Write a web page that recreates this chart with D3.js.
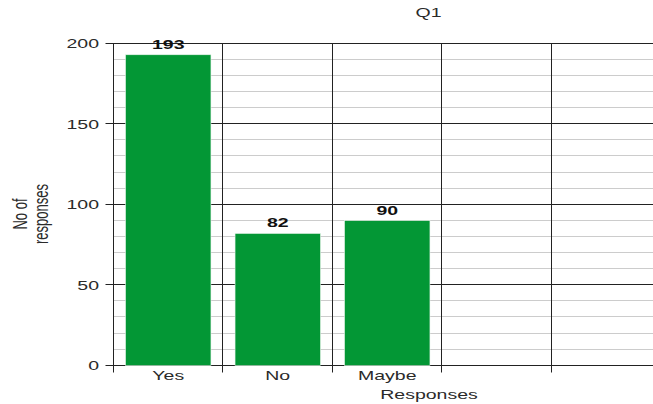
<!DOCTYPE html>
<html>
<head>
<meta charset="utf-8">
<script src="https://cdn.jsdelivr.net/npm/d3@7"></script>
<style>
  html, body { margin: 0; padding: 0; background: #fff; overflow: hidden; }
  svg { display: block; font-family: "Liberation Sans", Arial, sans-serif; }
</style>
</head>
<body>
<svg id="chart" width="653" height="404"></svg>
<script>
// Survey answers for Q1
const categories = ["Yes", "No", "Maybe", "", ""];
const counts = [193, 82, 90, null, null];
const yTicks = [0, 50, 100, 150, 200];
const chartTitle = "Q1";
const xTitle = "Responses";
const yTitleLines = ["No of", "responses"];

const svg = d3.select("#chart");
const plotLeft = 113.5, plotRight = 661, plotTop = 43.5, plotBottom = 365.5;
const wide = 1.5; // horizontal stretch of all lettering

const x = d3.scaleBand()
  .domain(d3.range(categories.length))
  .range([plotLeft, plotRight])
  .paddingInner(0.22)
  .paddingOuter(0.11);
const step = x.step();

const y = d3.scaleLinear().domain([0, 200]).range([plotBottom, plotTop]);
// snap a 1px rule to the pixel grid
const crisp = v => Math.floor(v - 0.25) + 0.5;

// place a horizontally widened label at (px, py)
function label(g, px, py, anchor) {
  return g.append("text")
    .attr("transform", `translate(${px},${py}) scale(${wide},1)`)
    .attr("text-anchor", anchor)
    .attr("font-size", 13)
    .attr("fill", "#2a2a2a");
}

// minor horizontal grid every 10
const minor = d3.range(0, 201, 10).filter(v => v % 50 !== 0);
svg.append("g").selectAll("line").data(minor).join("line")
  .attr("x1", plotLeft).attr("x2", 653)
  .attr("y1", d => crisp(y(d))).attr("y2", d => crisp(y(d)))
  .attr("stroke", "#cccccc").attr("stroke-width", 1);

// major horizontal grid
svg.append("g").selectAll("line").data(yTicks).join("line")
  .attr("x1", plotLeft - 8).attr("x2", 653)
  .attr("y1", d => crisp(y(d))).attr("y2", d => crisp(y(d)))
  .attr("stroke", "#222").attr("stroke-width", 1);

// vertical category separators
const edges = d3.range(categories.length + 1).map(i => plotLeft + i * step);
svg.append("g").selectAll("line").data(edges).join("line")
  .attr("x1", d => Math.round(d) - 0.5).attr("x2", d => Math.round(d) - 0.5)
  .attr("y1", plotTop).attr("y2", plotBottom + 7)
  .attr("stroke", "#222").attr("stroke-width", 1);

// bars
const rows = categories.map((c, i) => ({ i, c, v: counts[i] })).filter(d => d.v != null);
svg.append("g").selectAll("rect").data(rows).join("rect")
  .attr("x", d => x(d.i))
  .attr("width", x.bandwidth())
  .attr("y", d => y(d.v))
  .attr("height", d => y(0) - y(d.v))
  .attr("fill", "#039735")
  .attr("stroke", "#e6f4ea").attr("stroke-width", 0.6);

// value labels
const valG = svg.append("g");
rows.forEach(d => {
  label(valG, x(d.i) + x.bandwidth() / 2, y(d.v) - 6, "middle")
    .attr("font-weight", "bold").attr("fill", "#111")
    .text(d.v);
});

// y tick labels
const yG = svg.append("g");
yTicks.forEach(t => {
  label(yG, 99, y(t) + 4.5, "end").text(t);
});

// x category labels
const xG = svg.append("g");
categories.forEach((c, i) => {
  if (c) label(xG, x(i) + x.bandwidth() / 2, 380, "middle").text(c);
});

// titles
label(svg, 428.5, 17, "middle").text(chartTitle);
label(svg, 429, 399, "middle").text(xTitle);

const yt = svg.append("text")
  .attr("transform", `translate(27,214) scale(${wide},1) rotate(-90)`)
  .attr("text-anchor", "middle").attr("font-size", 13).attr("fill", "#2a2a2a");
yTitleLines.forEach((t, k) => {
  yt.append("tspan").attr("x", 0).attr("dy", k === 0 ? 0 : 14).text(t);
});
</script>
</body>
</html>
